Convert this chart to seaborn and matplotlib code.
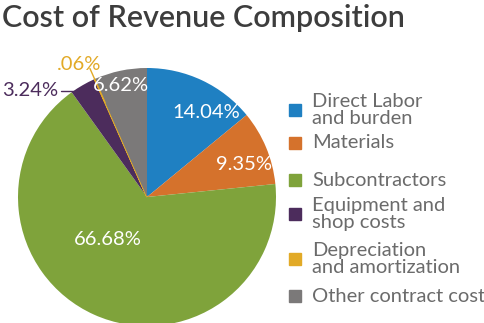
import numpy as np
import matplotlib
matplotlib.use("Agg")
import matplotlib.pyplot as plt
import seaborn as sns

categories = ["Direct Labor\nand burden", "Materials", "Subcontractors",
              "Equipment and\nshop costs", "Depreciation\nand amortization",
              "Other contract cost"]
values = [14.04, 9.35, 66.68, 3.24, 0.06, 6.62]
pct_labels = ["14.04%", "9.35%", "66.68%", "3.24%", ".06%", "6.62%"]
colors = ["#1f80c2", "#d5722c", "#7fa33b", "#4c2c5c", "#e2aa27", "#7b7979"]

sns.set_theme(style="white")
plt.rcParams['font.family'] = ['Lato', 'DejaVu Sans']

W, H = 484, 323
fig = plt.figure(figsize=(W / 100, H / 100), dpi=100)
fig.patch.set_facecolor("white")

cx, cy, R = 147, 197, 129
ax = fig.add_axes([(cx - R) / W, (H - cy - R) / H, 2 * R / W, 2 * R / H])

wedges, _ = ax.pie(values, colors=colors, startangle=90, counterclock=False,
                   radius=1.0, wedgeprops=dict(linewidth=0))
ax.set_xlim(-1, 1)
ax.set_ylim(-1, 1)
ax.set_aspect("equal")
ax.axis("off")
for w in wedges:
    w.set_clip_on(False)
# tiny slice drawn with its own outline so it stays visible
wedges[4].set_edgecolor(colors[4])
wedges[4].set_linewidth(1.0)

# label placement (radius fraction, angular offset)
inside_r = {0: 0.80, 1: 0.79, 2: 0.45, 5: 0.89}
inside_off = {0: -10, 1: -4, 2: -18, 5: 1}
for i, w in enumerate(wedges):
    mid = np.deg2rad((w.theta1 + w.theta2) / 2 + inside_off.get(i, 0))
    if i in inside_r:
        r = inside_r[i]
        ax.text(r * np.cos(mid), r * np.sin(mid), pct_labels[i], color="white",
                fontsize=14.5, ha="center", va="center")

# Equipment leader (horizontal)
w = wedges[3]
mid = np.deg2rad((w.theta1 + w.theta2) / 2)
px, py = 0.95 * np.cos(mid), 0.95 * np.sin(mid)
ax.plot([px, -0.67], [py, py], color=colors[3], lw=1, clip_on=False)
ax.text(-0.69, py, pct_labels[3], color=colors[3], fontsize=14.5,
        ha="right", va="center", clip_on=False)

# Depreciation leader (radial)
w = wedges[4]
mid = np.deg2rad((w.theta1 + w.theta2) / 2)
ax.plot([0.80 * np.cos(mid), 1.09 * np.cos(mid)],
        [0.80 * np.sin(mid), 1.09 * np.sin(mid)], color=colors[4], lw=1, clip_on=False)
ax.text(1.12 * np.cos(mid) - 0.07, 1.12 * np.sin(mid) + 0.0, pct_labels[4],
        color=colors[4], fontsize=14.5, ha="center", va="center", clip_on=False)

fig.text(2 / W, 1 - 18 / H, "Cost of Revenue Composition", fontsize=22,
         color="#3d3d3d", ha="left", va="center", fontweight="semibold")

# legend
leg_y = [110, 143, 180, 214, 259, 296]
for lab, col, y in zip(categories, colors, leg_y):
    fig.patches.append(plt.Rectangle((289 / W, 1 - (y + 6) / H), 12 / W, 12 / H,
                                     transform=fig.transFigure, color=col))
    fig.text(312 / W, 1 - y / H, lab, fontsize=14.5, color="#6b6b6b",
             ha="left", va="center", linespacing=0.95)

fig.savefig("out.png", dpi=100, facecolor="white")
